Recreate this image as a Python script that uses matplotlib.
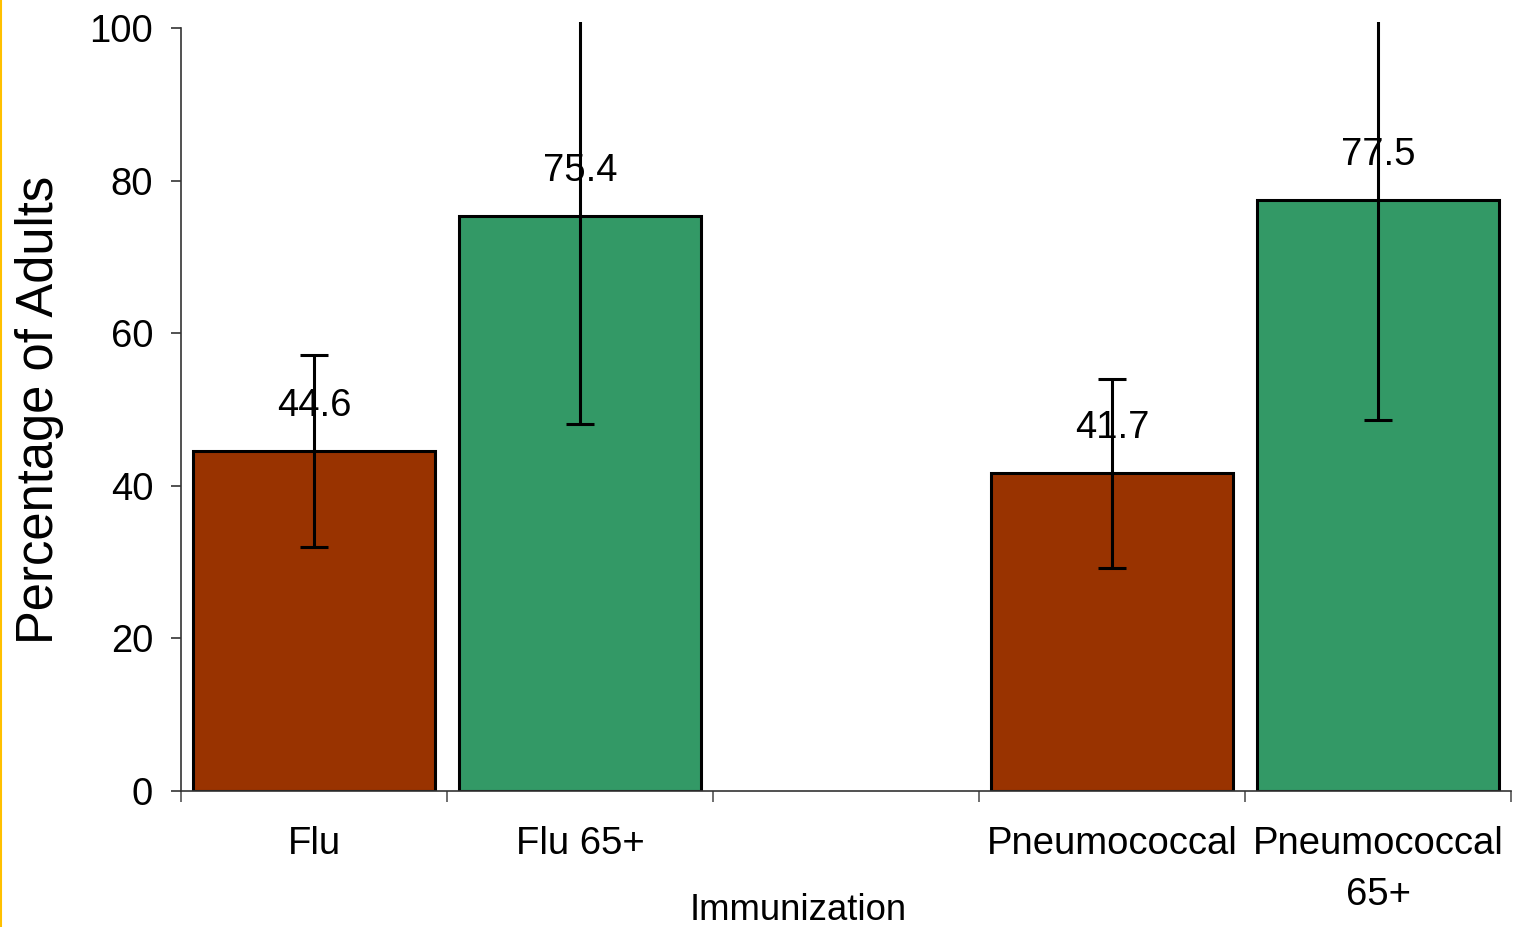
import matplotlib
matplotlib.use("Agg")
import matplotlib.pyplot as plt
from matplotlib.lines import Line2D

categories = ["Flu", "Flu 65+", "", "Pneumococcal", "Pneumococcal\n65+"]
values = [44.6, 75.4, None, 41.7, 77.5]
err_low = [12.6, 27.3, None, 12.5, 28.9]
err_high = [12.5, 27.3, None, 12.3, 28.9]
colors = ["#993300", "#339966", None, "#993300", "#339966"]
yticks = [0, 20, 40, 60, 80, 100]

plt.rcParams['font.family'] = ['Liberation Sans', 'DejaVu Sans']
FS = 27.5

fig = plt.figure(figsize=(15.19, 9.27), dpi=100)
ax = fig.add_axes([181/1519, 1-791/927, (1511-181)/1519, 769/927])

for i, (v, lo, hi, c) in enumerate(zip(values, err_low, err_high, colors)):
    if v is None:
        continue
    ax.bar(i, v, width=0.91, color=c, edgecolor="black", linewidth=2.2, zorder=2)
    ax.errorbar(i, v, yerr=[[lo], [hi]], fmt="none", ecolor="black",
                elinewidth=2.2, capsize=10, capthick=2.2, zorder=3)
    ax.annotate(f"{v}", (i, v), xytext=(0, 19), textcoords="offset points",
                ha="center", va="bottom", fontsize=FS, zorder=4)

ax.set_xlim(-0.5, 4.5)
ax.set_ylim(0, 100.8)
ax.spines["top"].set_visible(False)
ax.spines["right"].set_visible(False)
ax.spines["left"].set_bounds(0, 100)
for s in ("left", "bottom"):
    ax.spines[s].set_linewidth(1.2)
    ax.spines[s].set_color("#333333")

ax.set_yticks(yticks)
ax.set_yticklabels([str(t) for t in yticks], fontsize=FS)
ax.tick_params(axis="y", direction="out", length=7, width=1.2, color="#333333", pad=13)

ax.set_xticks([i - 0.5 for i in range(6)])
ax.set_xticklabels([])
ax.tick_params(axis="x", which="major", direction="out", length=8, width=1.2, color="#555555")
ax.set_xticks(range(5), minor=True)
ax.set_xticklabels(categories, minor=True, fontsize=FS, linespacing=1.55)
ax.tick_params(axis="x", which="minor", length=0, pad=25)

ax.set_ylabel("Percentage of Adults", fontsize=36.5)
ax.yaxis.set_label_coords((64-181)/1331, (791-410)/769)
ax.set_xlabel("Immunization", fontsize=26.3, va="center")
ax.xaxis.set_label_coords((799-181)/1331, -(911-791)/769)

fig.add_artist(Line2D([0.8/1519, 0.8/1519], [0, 1], color="#FFC000", linewidth=1.5,
                      transform=fig.transFigure))

fig.savefig("out.png", dpi=100)
